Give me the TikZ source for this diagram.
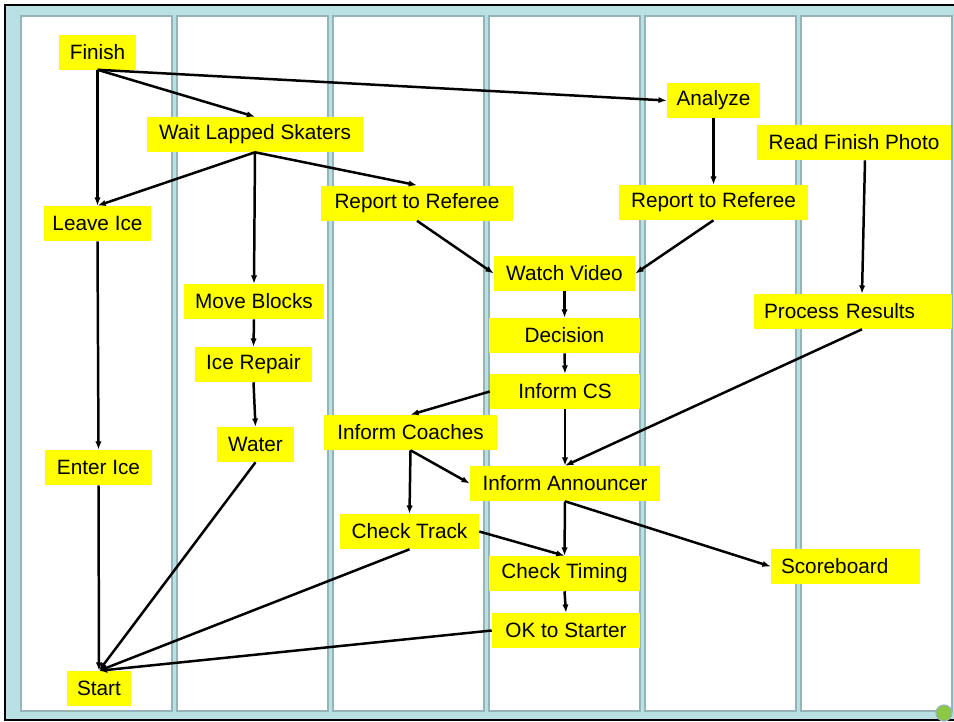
\documentclass[tikz,border=0pt]{standalone}
\usepackage{fontspec}
\setmainfont{Liberation Sans}
\usepackage{tikz}
\usetikzlibrary{arrows.meta}
\definecolor{taskyellow}{RGB}{255,255,0}
\definecolor{poolblue}{RGB}{185,224,227}
\definecolor{laneedge}{RGB}{150,180,184}
\definecolor{dotgreen}{RGB}{140,200,70}
\tikzset{>={Latex[width=1.6mm,length=2.1mm]}}
\tikzset{
  task/.style={shape=rectangle,fill=taskyellow,minimum height=0.35in,inner xsep=0.03in,inner ysep=0pt,font=\fontsize{15}{18}\selectfont},
  flow/.style={->,line width=1.8pt},
  lane/.style={fill=white,draw=laneedge,line width=1.4pt}
}
\begin{document}
\begin{tikzpicture}

\useasboundingbox (0in,0in) rectangle (9.54in,-7.22in);

% frame and lanes
\path[fill=poolblue,draw=black,line width=1.6pt] (0.05in,-0.05in) rectangle (9.70in,-7.20in);
\path[lane] (0.21in,-0.16in) rectangle (1.72in,-7.11in);
\path[lane] (1.77in,-0.16in) rectangle (3.28in,-7.11in);
\path[lane] (3.33in,-0.16in) rectangle (4.84in,-7.11in);
\path[lane] (4.89in,-0.16in) rectangle (6.40in,-7.11in);
\path[lane] (6.45in,-0.16in) rectangle (7.96in,-7.11in);
\path[lane] (8.01in,-0.16in) rectangle (9.52in,-7.11in);
\path[fill=dotgreen,draw=laneedge,line width=0.8pt] (9.44in,-7.13in) circle (0.08in);

% tasks
\path (0.975in,-0.52in) node (finish) [task,minimum width=0.77in]{Finish};
\path (2.55in,-1.345in) node (wait) [task,minimum width=2.16in]{Wait Lapped Skaters};
\path (7.135in,-1.005in) node (analyze) [task,minimum width=0.93in]{Analyze};
\path (8.54in,-1.425in) node (photo) [task,minimum width=1.94in]{Read Finish Photo};
\path (0.975in,-2.235in) node (leave) [task,minimum width=1.07in]{Leave Ice};
\path (4.17in,-2.03in) node (refone) [task,minimum width=1.92in]{Report to Referee};
\path (7.135in,-2.025in) node (reftwo) [task,minimum width=1.89in]{Report to Referee};
\path (5.645in,-2.735in) node (video) [task,minimum width=1.41in]{Watch Video};
\path (2.54in,-3.015in) node (blocks) [task,minimum width=1.40in]{Move Blocks};
\path (8.53in,-3.115in) node (results) [task,minimum width=1.98in,text width=1.78in,align=left]{Process Results};
\path (5.645in,-3.355in) node (decision) [task,minimum width=1.51in]{Decision};
\path (2.535in,-3.645in) node (repair) [task,minimum width=1.17in]{Ice Repair};
\path (5.65in,-3.915in) node (informcs) [task,minimum width=1.50in]{Inform CS};
\path (4.105in,-4.325in) node (coaches) [task,minimum width=1.73in]{Inform Coaches};
\path (2.555in,-4.445in) node (water) [task,minimum width=0.77in]{Water};
\path (0.985in,-4.675in) node (enter) [task,minimum width=1.07in]{Enter Ice};
\path (5.65in,-4.835in) node (announcer) [task,minimum width=1.90in]{Inform Announcer};
\path (4.095in,-5.315in) node (track) [task,minimum width=1.39in]{Check Track};
\path (8.455in,-5.665in) node (scoreboard) [task,minimum width=1.49in,text width=1.29in,align=left]{Scoreboard};
\path (5.645in,-5.735in) node (timing) [task,minimum width=1.51in]{Check Timing};
\path (5.66in,-6.305in) node (oktostart) [task,minimum width=1.48in]{OK to Starter};
\path (0.99in,-6.885in) node (start) [task,minimum width=0.64in]{Start};

% connectors
\draw[flow] (finish.south) -- (leave.north);
\draw[flow] (finish.south) -- (wait.north);
\draw[flow] (finish.south) -- (analyze.west);
\draw[flow] (wait.south) -- (leave.north);
\draw[flow] (wait.south) -- (blocks.north);
\draw[flow] (wait.south) -- (refone.north);
\draw[flow] (analyze.south) -- (reftwo.north);
\draw[flow] (refone.south) -- (video.west);
\draw[flow] (reftwo.south) -- (video.east);
\draw[flow] ([xshift=0.11in]photo.south) -- ([xshift=0.09in]results.north);
\draw[flow] (video.south) -- (decision.north);
\draw[flow] (decision.south) -- (informcs.north);
\draw[flow] (blocks.south) -- (repair.north);
\draw[flow] (repair.south) -- (water.north);
\draw[flow] (leave.south) -- (enter.north);
\draw[flow] (informcs.west) -- (coaches.north);
\draw[flow] (informcs.south) -- (announcer.north);
\draw[flow] ([xshift=0.09in]results.south) -- (announcer.north);
\draw[flow] (coaches.south) -- (track.north);
\draw[flow] (coaches.south) -- (announcer.west);
\draw[flow] (announcer.south) -- (timing.north);
\draw[flow] (announcer.south) -- (scoreboard.west);
\draw[flow] (track.east) -- (timing.north);
\draw[flow] (timing.south) -- (oktostart.north);
\draw[flow] (enter.south) -- (start.north);
\draw[flow] (water.south) -- (start.north);
\draw[flow] (track.south) -- (start.north);
\draw[flow] (oktostart.west) -- (start.north);

\end{tikzpicture}
\end{document}
